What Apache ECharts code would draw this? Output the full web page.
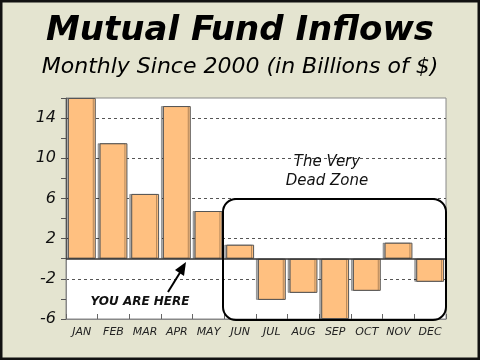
<!DOCTYPE html>
<html><head><meta charset="utf-8">
<script src="https://cdn.jsdelivr.net/npm/echarts@6/dist/echarts.min.js"></script>
<style>html,body{margin:0;padding:0;}#c{width:480px;height:360px;}</style>
</head><body><div id="c"></div>
<script>
const months = ['JAN','FEB','MAR','APR','MAY','JUN','JUL','AUG','SEP','OCT','NOV','DEC'];
const inflows = [16.0, 11.5, 6.45, 15.2, 4.75, 1.4, -4.1, -3.4, -6.0, -3.2, 1.6, -2.3];
const yTicks = [-6, -2, 2, 6, 10, 14];

const chart = echarts.init(document.getElementById('c'), null, {renderer:'canvas'});
const F = 'DejaVu Sans';
chart.setOption({
  backgroundColor: '#E4E4D0',
  animation: false,
  title: [
    {text: 'Mutual Fund Inflows', left: 'center', top: 9,
     textStyle: {fontFamily: F, fontStyle: 'italic', fontWeight: 'bold', fontSize: 34, color: '#000'}},
    {text: 'Monthly Since 2000 (in Billions of $)', left: 'center', top: 51,
     textStyle: {fontFamily: F, fontStyle: 'italic', fontWeight: 'normal', fontSize: 22, color: '#000'}}
  ],
  grid: {left: 66, right: 34, top: 98, bottom: 41, show: true, backgroundColor: '#fff', borderColor: '#888', borderWidth: 1},
  xAxis: {
    type: 'category', data: months,
    axisLine: {onZero: false, lineStyle: {color: '#888'}},
    axisTick: {show: true, inside: true, length: 5, lineStyle: {color: '#666'}},
    axisLabel: {interval: 0, fontFamily: F, fontStyle: 'italic', fontSize: 11, color: '#222', margin: 8}
  },
  yAxis: {
    type: 'value', min: -6, max: 16, interval: 2,
    axisLine: {show: true, lineStyle: {color: '#888'}},
    axisTick: {show: true, length: 5, lineStyle: {color: '#555'}},
    axisLabel: {fontFamily: F, fontStyle: 'italic', fontSize: 16, color: '#111', margin: 10,
      formatter: v => yTicks.indexOf(v) >= 0 ? String(v) : ''},
    splitLine: {show: true, lineStyle: {type: [3, 3], width: 1, color: ['#555', 'rgba(0,0,0,0)']}}
  },
  series: [{
    type: 'bar', data: inflows, barCategoryGap: '12%',
    itemStyle: {color: '#FFC080', borderColor: '#555', borderWidth: 1,
      shadowColor: 'rgba(0,0,0,0.3)', shadowOffsetX: -2, shadowOffsetY: 0, shadowBlur: 0},
    markLine: {silent: true, symbol: 'none', label: {show: false},
      lineStyle: {color: '#333', type: 'solid', width: 1.5},
      data: [{yAxis: 0}]}
  }],
  graphic: [
    {type: 'rect', shape: {x: 223, y: 199, width: 223, height: 121, r: 13},
     style: {fill: 'none', stroke: '#000', lineWidth: 2}, z: 100},
    {type: 'text', style: {text: 'The Very\nDead Zone', x: 327, y: 153, align: 'center',
      font: 'italic 15px "DejaVu Sans"', fill: '#111', lineHeight: 19}, z: 100},
    {type: 'text', style: {text: 'YOU ARE HERE', x: 140, y: 296, align: 'center',
      font: 'italic bold 12px "DejaVu Sans"', fill: '#111'}, z: 100},
    {type: 'line', shape: {x1: 168, y1: 292, x2: 181, y2: 271}, style: {stroke: '#000', lineWidth: 2}, z: 100},
    {type: 'polygon', shape: {points: [[186, 262], [175, 270], [184, 276]]}, style: {fill: '#000'}, z: 100},
    {type: 'rect', shape: {x: 1, y: 1, width: 478, height: 358}, style: {fill: 'none', stroke: '#111', lineWidth: 3}, z: 100}
  ]
});
</script></body></html>
